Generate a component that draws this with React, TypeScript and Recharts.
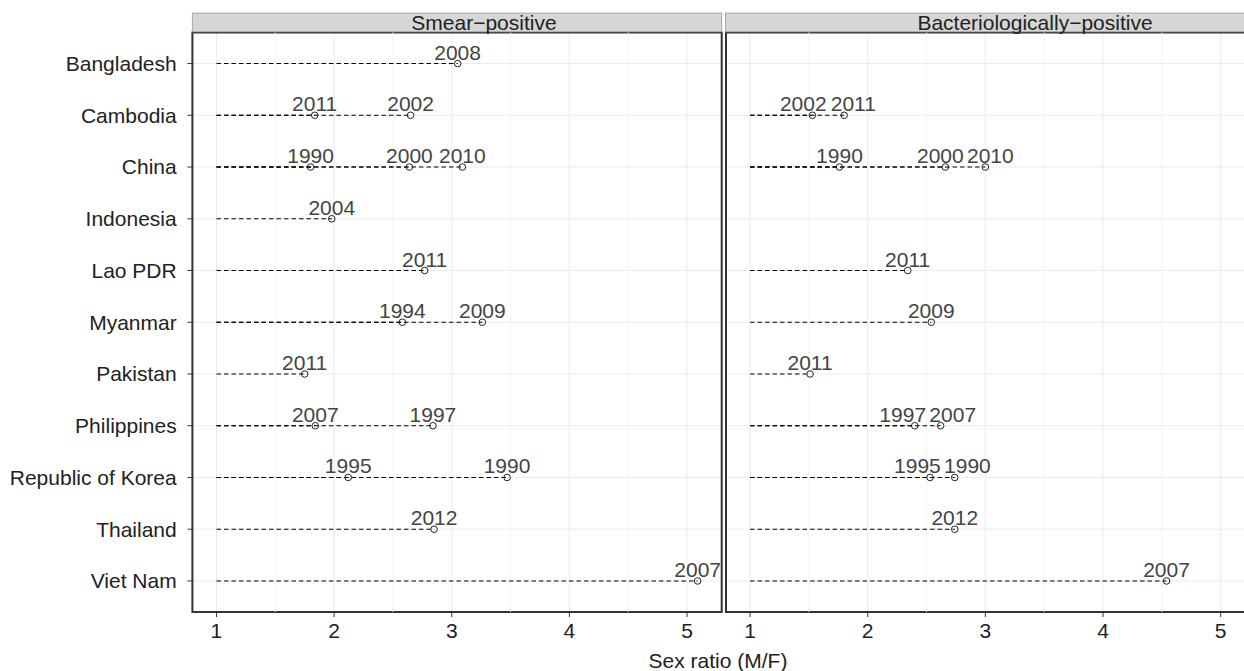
import { ScatterChart, Scatter, XAxis, YAxis, CartesianGrid, ReferenceLine, ReferenceArea } from "recharts"

const countries = [
  "Bangladesh",
  "Cambodia",
  "China",
  "Indonesia",
  "Lao PDR",
  "Myanmar",
  "Pakistan",
  "Philippines",
  "Republic of Korea",
  "Thailand",
  "Viet Nam",
]

// [country, year, sex ratio]
const smearPositive: [string, number, number][] = [
  ["Bangladesh", 2008, 3.05],
  ["Cambodia", 2011, 1.835],
  ["Cambodia", 2002, 2.65],
  ["China", 1990, 1.8],
  ["China", 2000, 2.64],
  ["China", 2010, 3.09],
  ["Indonesia", 2004, 1.98],
  ["Lao PDR", 2011, 2.77],
  ["Myanmar", 1994, 2.58],
  ["Myanmar", 2009, 3.26],
  ["Pakistan", 2011, 1.75],
  ["Philippines", 2007, 1.84],
  ["Philippines", 1997, 2.84],
  ["Republic of Korea", 1995, 2.12],
  ["Republic of Korea", 1990, 3.47],
  ["Thailand", 2012, 2.85],
  ["Viet Nam", 2007, 5.09],
]

const bactPositive: [string, number, number][] = [
  ["Cambodia", 2002, 1.53],
  ["Cambodia", 2011, 1.8],
  ["China", 1990, 1.76],
  ["China", 2000, 2.66],
  ["China", 2010, 3.0],
  ["Lao PDR", 2011, 2.34],
  ["Myanmar", 2009, 2.54],
  ["Pakistan", 2011, 1.51],
  ["Philippines", 1997, 2.4],
  ["Philippines", 2007, 2.62],
  ["Republic of Korea", 1995, 2.53],
  ["Republic of Korea", 1990, 2.74],
  ["Thailand", 2012, 2.74],
  ["Viet Nam", 2007, 4.54],
]

const xTicks = [1, 2, 3, 4, 5]
const xMinor = [1.5, 2.5, 3.5, 4.5]
const baseline = 1

const FONT = "'Liberation Sans', Arial, Helvetica, sans-serif"
const PLOT_W = 529.3
const LABEL_SEP = 50 // px between label centres in the same row

// ggplot-like expansion (5% of range) over both panels
const allRatios = [...smearPositive, ...bactPositive].map((d) => d[2])
const lo = Math.min(baseline, ...allRatios)
const hi = Math.max(...allRatios)
const pad = (hi - lo) * 0.05
const xDomain: [number, number] = [lo - pad, hi + pad]
const pxPerUnit = PLOT_W / (xDomain[1] - xDomain[0])

const rows = countries.map((_, i) => i + 1)
const yDomain: [number, number] = [0.4, countries.length + 0.6]

// points + simple repel of year labels that would collide in a row
const toPoints = (src: [string, number, number][]) => {
  const pts = src.map(([c, year, ratio]) => ({
    row: countries.indexOf(c) + 1,
    year,
    ratio,
    labelRatio: ratio,
  }))
  const sep = LABEL_SEP / pxPerUnit
  rows.forEach((r) => {
    const inRow = pts.filter((p) => p.row === r).sort((a, b) => a.ratio - b.ratio)
    for (let it = 0; it < 30; it++) {
      for (let i = 0; i < inRow.length - 1; i++) {
        const a = inRow[i]
        const b = inRow[i + 1]
        const gap = b.labelRatio - a.labelRatio
        if (gap < sep) {
          const push = (sep - gap) / 2
          a.labelRatio -= push
          b.labelRatio += push
        }
      }
    }
  })
  return pts
}

const YearDot = (props: any) => {
  const { cx, cy, payload } = props
  if (cx == null || cy == null) return null
  const lx = cx + (payload.labelRatio - payload.ratio) * pxPerUnit
  return (
    <g>
      <circle cx={cx} cy={cy} r={3.3} fill="none" stroke="#222" strokeWidth={1} />
      <text x={lx} y={cy - 4} textAnchor="middle" fontSize={21} fill="#444" fontFamily={FONT}>
        {payload.year}
      </text>
    </g>
  )
}

function Panel({ src, showY, width, marginLeft, marginRight }: any) {
  const data = toPoints(src)
  return (
    <ScatterChart
      width={width}
      height={671}
      margin={{ top: 32.5, right: marginRight, bottom: 0, left: marginLeft }}
    >
      <CartesianGrid stroke="#EBEBEB" strokeWidth={1} />
      {xMinor.map((m) => (
        <ReferenceLine key={`m${m}`} x={m} stroke="#F4F4F4" strokeWidth={1} />
      ))}
      <XAxis
        dataKey="ratio"
        type="number"
        domain={xDomain}
        ticks={xTicks}
        allowDataOverflow
        axisLine={false}
        tickSize={5}
        tickMargin={6.4}
        tickLine={{ stroke: "#333" }}
        tick={{ fontSize: 21, fill: "#222", fontFamily: FONT }}
        height={59}
        interval={0}
      />
      <YAxis
        dataKey="row"
        type="number"
        domain={yDomain}
        reversed
        ticks={rows}
        interval={0}
        hide={!showY}
        width={192.4}
        axisLine={false}
        tickSize={5}
        tickMargin={10.7}
        tickLine={{ stroke: "#333" }}
        tick={{ fontSize: 21, fill: "#222", fontFamily: FONT }}
        tickFormatter={(v: number) => countries[v - 1]}
        allowDataOverflow
      />
      {data.map((d, i) => (
        <ReferenceLine
          key={`s${i}`}
          segment={[
            { x: baseline, y: d.row },
            { x: d.ratio, y: d.row },
          ]}
          stroke="#000"
          strokeWidth={1.15}
          strokeDasharray="4.5 3"
        />
      ))}
      <Scatter data={data} shape={YearDot} isAnimationActive={false} />
      <ReferenceArea
        x1={xDomain[0]}
        x2={xDomain[1]}
        y1={yDomain[0]}
        y2={yDomain[1]}
        fill="none"
        stroke="#333"
        strokeWidth={2}
        ifOverflow="visible"
      />
    </ScatterChart>
  )
}

export default function App() {
  return (
    <div
      style={{
        position: "absolute",
        left: 0,
        top: 0,
        width: 1244,
        height: 671,
        overflow: "hidden",
        background: "#fff",
        fontFamily: FONT,
      }}
    >
      <div style={{ position: "absolute", left: 0, top: 0 }}>
        <Panel src={smearPositive} showY width={734} marginLeft={0} marginRight={12.3} />
      </div>
      <div style={{ position: "absolute", left: 715.5, top: 0 }}>
        <Panel src={bactPositive} showY={false} width={560} marginLeft={10} marginRight={20.7} />
      </div>
      <svg
        width={1244}
        height={671}
        style={{ position: "absolute", left: 0, top: 0, pointerEvents: "none" }}
      >
        <rect x={192.4} y={13.1} width={529.3} height={18.6} fill="#D6D6D6" stroke="#A8A8A8" strokeWidth={1} />
        <rect x={725.5} y={13.1} width={529.3} height={18.6} fill="#D6D6D6" stroke="#A8A8A8" strokeWidth={1} />
        <text x={484} y={30} textAnchor="middle" fontSize={21} fill="#222" fontFamily={FONT}>
          Smear−positive
        </text>
        <text x={1035} y={30} textAnchor="middle" fontSize={21} fill="#222" fontFamily={FONT}>
          Bacteriologically−positive
        </text>
        <text x={718} y={668.3} textAnchor="middle" fontSize={21} fill="#222" fontFamily={FONT}>
          Sex ratio (M/F)
        </text>
      </svg>
    </div>
  )
}
